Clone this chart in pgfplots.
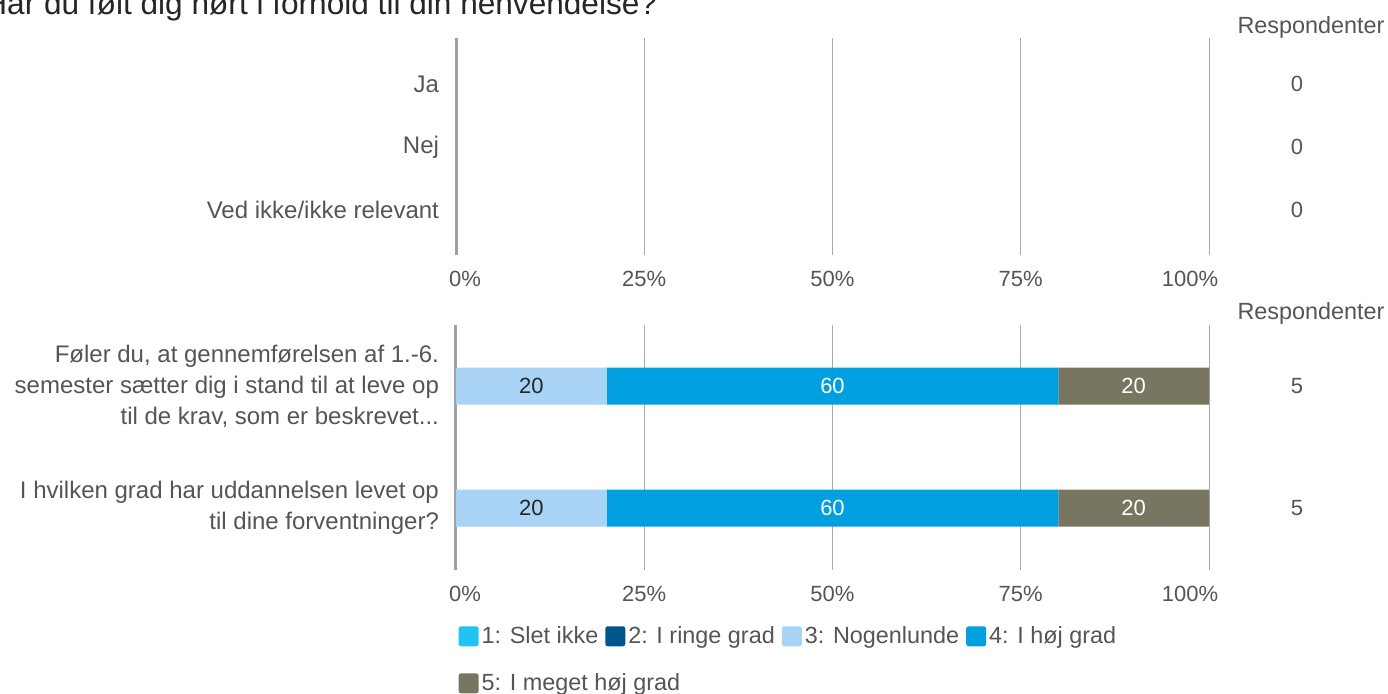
\documentclass[border=0pt]{standalone}
\usepackage{pgfplots}
\pgfplotsset{compat=1.18}
\usepackage{fontspec}
\setmainfont{Liberation Sans}
\definecolor{txt}{HTML}{555555}
\definecolor{gridc}{HTML}{A8A8A8}
\definecolor{axc}{HTML}{A0A0A0}
\definecolor{cA}{HTML}{20C4F2}
\definecolor{cB}{HTML}{00558C}
\definecolor{cC}{HTML}{A9D4F5}
\definecolor{cD}{HTML}{009FE0}
\definecolor{cE}{HTML}{787560}
\newcommand{\ff}{\fontsize{11.7}{15.5}\selectfont}
\newcommand{\fy}{\fontsize{12}{15.5}\selectfont}
\newcommand{\fn}{\fontsize{11}{15.5}\selectfont}
\newcommand{\tdots}{...}
\newcommand{\px}[2]{(#1*0.5pt,-#2*0.5pt)}
\pgfplotsset{
  common/.style={
    scale only axis, width=376.5pt,
    xmin=0, xmax=100,
    xtick={0,25,50,75,100},
    xticklabels={\rule{9pt}{0pt}0\%,25\%,50\%,75\%,100\%\rule{19pt}{0pt}},
    y dir=reverse,
    axis lines*=left,
    x axis line style={draw=none},
    y axis line style={axc, line width=1.5pt},
    major tick length=0pt,
    xmajorgrids, major grid style={gridc, line width=0.5pt},
    yticklabel style={font=\fy, text=txt, align=right, xshift=-5pt},
    xticklabel style={font=\fn, text=txt, yshift=-4.5pt},
    clip=false,
  },
  sq/.style={legend image code/.code={\fill[##1, draw=none, rounded corners=1.2pt] (0pt,-5pt) rectangle (10pt,5pt);}},
  leg/.style={
    legend cell align=left,
    legend style={draw=none, fill=none, font=\ff, text=txt, inner sep=0pt,
      nodes={inner sep=1.5pt},
      /tikz/every even column/.append style={column sep=2pt}},
  }
}
\begin{document}
\begin{tikzpicture}
\clip \px{0}{0} rectangle \px{1388}{693};
\path[use as bounding box] \px{0}{0} rectangle \px{1388}{693};
\node[anchor=base west, font=\fontsize{15.8}{18}\selectfont, text=black!85, inner sep=0pt] at \px{-16}{14} {Har du følt dig hørt i forhold til din henvendelse?};

% top axis
\begin{axis}[common, at={(228pt,-127.5pt)}, anchor=south west, height=108.5pt,
  ymin=-0.73, ymax=2.71, ytick={0,1,2},
  yticklabels={Ja,Nej,Ved ikke/ikke relevant}]
  \addplot[draw=none] coordinates {(0,0) (0,1) (0,2)};
\end{axis}
\node[font=\ff, text=txt] at \px{1311}{27} {Respondenter};
\node[font=\fn, text=txt] at \px{1297}{84} {0};
\node[font=\fn, text=txt] at \px{1297}{147} {0};
\node[font=\fn, text=txt] at \px{1297}{210} {0};

% bottom axis
\begin{axis}[common, leg, at={(228pt,-285pt)}, anchor=south west, height=122.5pt,
  ymin=-0.5, ymax=1.508, ytick={0,1},
  yticklabels={{Føler du, at gennemførelsen af 1.-6.\\semester sætter dig i stand til at leve op\\til de krav, som er beskrevet\tdots},{I hvilken grad har uddannelsen levet op\\til dine forventninger?}},
  xbar stacked, bar width=18.5pt,
  /pgf/number format/assume math mode=true,
  legend columns=-1,
  legend style={at={(0.003,-0.216)}, anchor=north west},
  ]
  \addplot[fill=cA, draw=none, sq] coordinates {(0,0) (0,1)};
  \addlegendentry{1: Slet ikke}
  \addplot[fill=cB, draw=none, sq] coordinates {(0,0) (0,1)};
  \addlegendentry{2: I ringe grad}
  \addplot[fill=cC, draw=none, sq, nodes near coords, nodes near coords style={font=\fn, text=black!85}] coordinates {(20,0) (20,1)};
  \addlegendentry{3: Nogenlunde}
  \addplot[fill=cD, draw=none, sq, nodes near coords, nodes near coords style={font=\fn, text=white}] coordinates {(60,0) (60,1)};
  \addlegendentry{4: I høj grad}
  \addplot[fill=cE, draw=none, nodes near coords, nodes near coords style={font=\fn, text=white}, forget plot] coordinates {(20,0) (20,1)};
\end{axis}
% second legend row
\begin{axis}[leg, scale only axis, width=376.5pt, height=122.5pt, at={(228pt,-285pt)}, anchor=south west,
  hide axis, xmin=0, xmax=1, ymin=0, ymax=1,
  legend style={at={(0.003,-0.408)}, anchor=north west}]
  \addlegendimage{fill=cE, draw=none, sq}
  \addlegendentry{5: I meget høj grad}
\end{axis}
\node[font=\ff, text=txt] at \px{1311}{313} {Respondenter};
\node[font=\fn, text=txt] at \px{1297}{386} {5};
\node[font=\fn, text=txt] at \px{1297}{508} {5};
\end{tikzpicture}
\end{document}
